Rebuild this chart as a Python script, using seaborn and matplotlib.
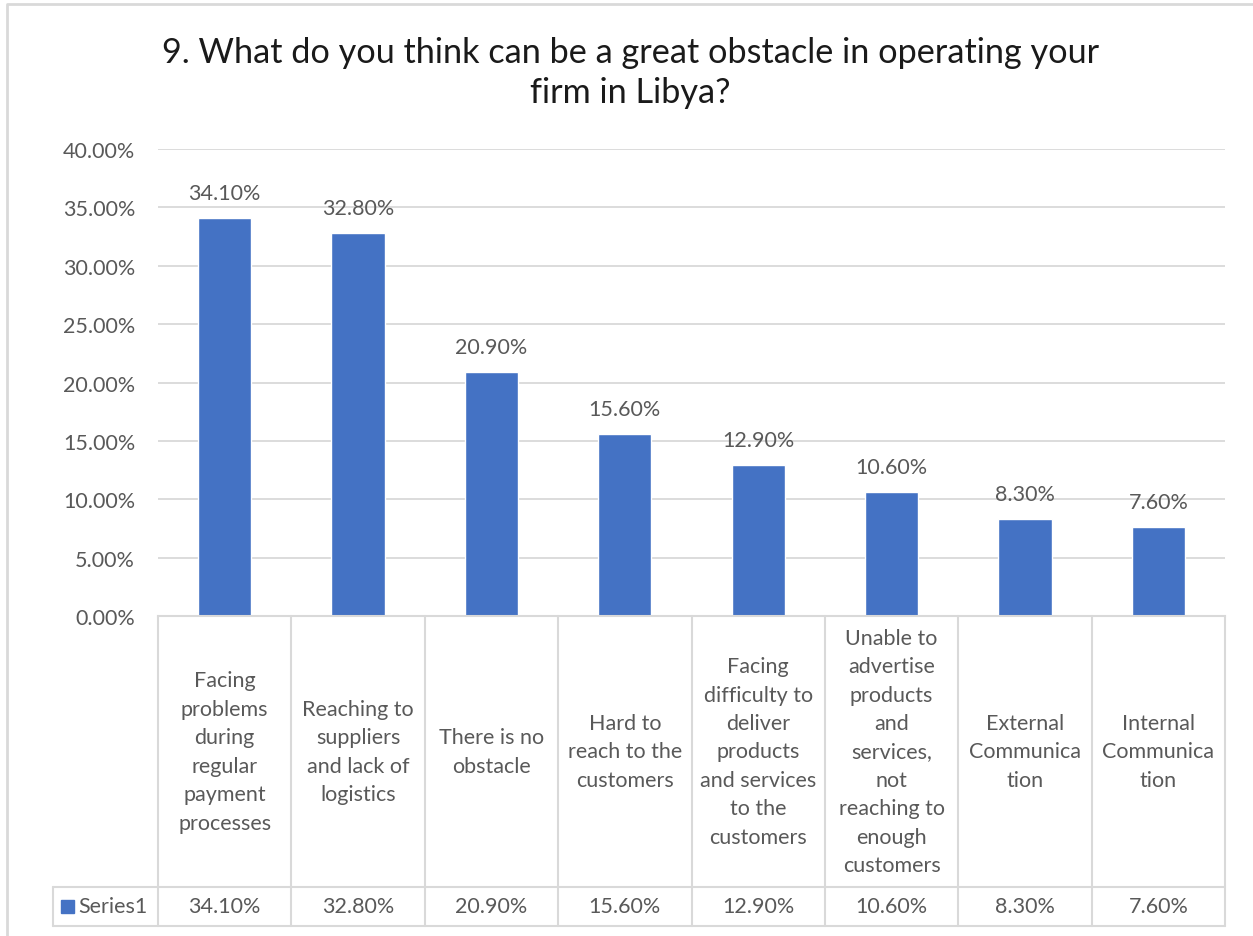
import matplotlib
matplotlib.use("Agg")
import matplotlib.pyplot as plt
import seaborn as sns
import pandas as pd
from matplotlib.lines import Line2D
from matplotlib.patches import Rectangle

categories = [
    "Facing\nproblems\nduring\nregular\npayment\nprocesses",
    "Reaching to\nsuppliers\nand lack of\nlogistics",
    "There is no\nobstacle",
    "Hard to\nreach to the\ncustomers",
    "Facing\ndifficulty to\ndeliver\nproducts\nand services\nto the\ncustomers",
    "Unable to\nadvertise\nproducts\nand\nservices,\nnot\nreaching to\nenough\ncustomers",
    "External\nCommunica\ntion",
    "Internal\nCommunica\ntion",
]
values = [34.10, 32.80, 20.90, 15.60, 12.90, 10.60, 8.30, 7.60]
yticks = [0, 5, 10, 15, 20, 25, 30, 35, 40]
series_name = "Series1"
title = "9. What do you think can be a great obstacle in operating your\nfirm in Libya?"

sns.set_theme(style="white")
plt.rcParams["font.family"] = ["Lato", "DejaVu Sans"]

W, H = 1253, 937
fig = plt.figure(figsize=(W / 100, H / 100), dpi=100)

TEXT = "#595959"
GRID = "#d9d9d9"
BAR = "#4472C4"
FS = 15.5

# plot area in pixel coordinates
x0, x1 = 158, 1225
ytop, ybot = 150, 617
ax = fig.add_axes([x0 / W, 1 - ybot / H, (x1 - x0) / W, (ybot - ytop) / H])

df = pd.DataFrame({"cat": range(len(values)), "val": values})
sns.barplot(data=df, x="cat", y="val", color=BAR, width=0.4, saturation=1, ax=ax)
ax.set_xlim(-0.5, len(values) - 0.5)
ax.set_ylim(0, 40)
ax.set_yticks(yticks)
ax.set_yticklabels([f"{t:.2f}%" for t in yticks], color=TEXT, fontsize=FS)
ax.tick_params(axis="y", length=0, pad=16.5)
ax.set_xticks([])
ax.set_xlabel("")
ax.set_ylabel("")
ax.grid(axis="y", color=GRID, linewidth=1.3)
ax.set_axisbelow(True)
for s in ["top", "right", "left"]:
    ax.spines[s].set_visible(False)
ax.spines["bottom"].set_color(GRID)
ax.spines["bottom"].set_linewidth(1.5)

for i, v in enumerate(values):
    ax.annotate(f"{v:.2f}%", (i, v), xytext=(0, 11), textcoords="offset points",
                ha="center", va="bottom", fontsize=FS, color=TEXT)

# data table below the plot area
def fx(px):
    return px / W

def fy(py):
    return 1 - py / H

col_w = (x1 - x0) / len(values)
row_split, row_end, legend_x = 888, 927, 53
lw = 1.5
lines = []
for k in range(len(values) + 1):
    xp = x0 + k * col_w
    lines.append(([xp, xp], [ybot, row_end]))
lines.append(([legend_x, x1], [row_split, row_split]))
lines.append(([legend_x, x1], [row_end, row_end]))
lines.append(([legend_x, legend_x], [row_split, row_end]))
for xs, ys in lines:
    fig.add_artist(Line2D([fx(v) for v in xs], [fy(v) for v in ys],
                          color=GRID, linewidth=lw, transform=fig.transFigure))

for i, (c, v) in enumerate(zip(categories, values)):
    cx = x0 + (i + 0.5) * col_w
    fig.text(fx(cx), fy((ybot + row_split) / 2), c, ha="center", va="center",
             fontsize=FS, color=TEXT, linespacing=1.53)
    fig.text(fx(cx), fy((row_split + row_end) / 2), f"{v:.2f}%", ha="center",
             va="center", fontsize=FS, color=TEXT)

# legend key in the table's first cell
fig.add_artist(Rectangle((fx(61), fy(914)), 13 / W, 13 / H, color=BAR,
                         transform=fig.transFigure))
fig.text(fx(78), fy((row_split + row_end) / 2), series_name, ha="left",
         va="center", fontsize=FS, color=TEXT)

# chart title
fig.text(0.5032, fy(73), title, ha="center", va="center", fontsize=24.7,
         color="#1a1a1a", linespacing=1.3)

# chart outline
fig.add_artist(Line2D([fx(7), fx(7), fx(1253)], [fy(940), fy(5), fy(5)],
                      color=GRID, linewidth=2, transform=fig.transFigure))

fig.savefig("out.png", dpi=100, facecolor="white")
